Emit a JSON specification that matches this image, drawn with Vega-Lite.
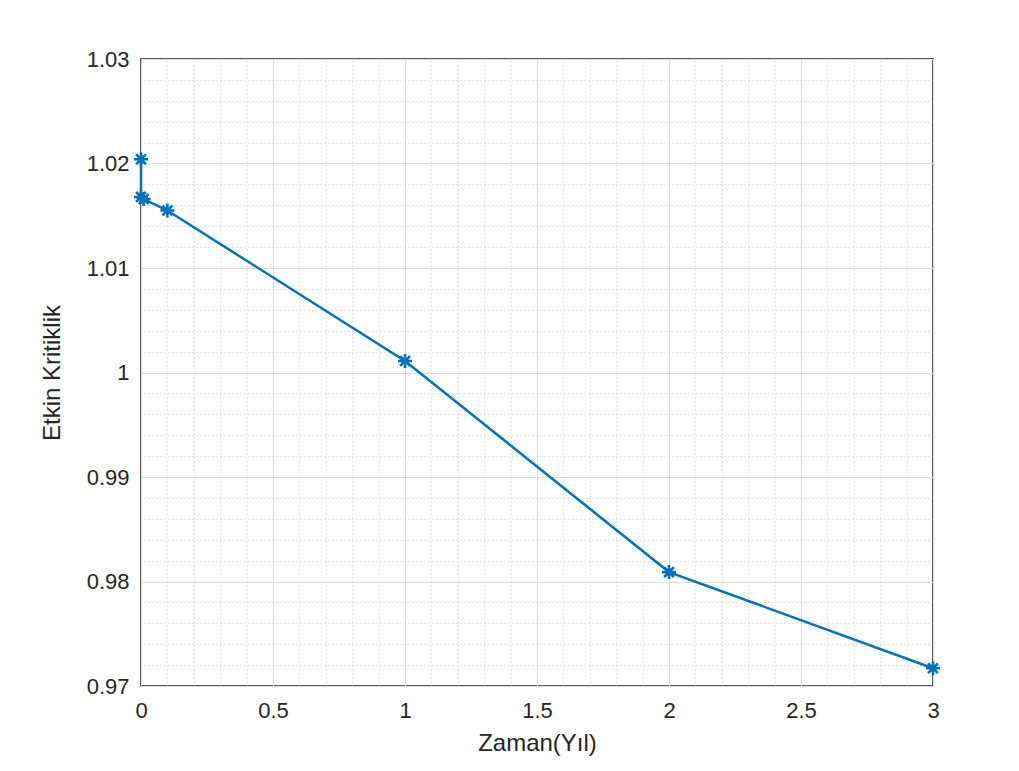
{
  "$schema": "https://vega.github.io/schema/vega-lite/v6.json",
  "width": 792,
  "height": 627,
  "autosize": {"type": "none"},
  "padding": {"left": 141, "top": 59, "right": 86, "bottom": 85},
  "background": "white",
  "config": {
    "view": {"stroke": "#262626", "strokeWidth": 1.5, "fill": "white"},
    "axis": {
      "labelFont": "Liberation Sans",
      "titleFont": "Liberation Sans",
      "labelFontSize": 22,
      "titleFontSize": 24,
      "labelColor": "#262626",
      "titleColor": "#262626",
      "titleFontWeight": "normal",
      "domain": false
    }
  },
  "data": {
    "values": [
      {"i": 0, "t": 0, "k": 1.0204},
      {"i": 1, "t": 0, "k": 1.0168},
      {"i": 2, "t": 0.01, "k": 1.0166},
      {"i": 3, "t": 0.1, "k": 1.0155},
      {"i": 4, "t": 1, "k": 1.0011},
      {"i": 5, "t": 2, "k": 0.9809},
      {"i": 6, "t": 3, "k": 0.9717}
    ]
  },
  "layer": [
    {
      "mark": {"type": "line", "opacity": 0},
      "encoding": {
        "x": {
          "field": "t", "type": "quantitative",
          "scale": {"domain": [0, 3], "nice": false, "zero": false},
          "axis": {
            "orient": "top", "title": null, "labels": false, "ticks": false,
            "grid": true, "gridDash": [1, 3], "gridColor": "#c8c8c8", "gridWidth": 1,
            "values": [0.1,0.2,0.3,0.4,0.6,0.7,0.8,0.9,1.1,1.2,1.3,1.4,1.6,1.7,1.8,1.9,2.1,2.2,2.3,2.4,2.6,2.7,2.8,2.9]
          }
        },
        "y": {
          "field": "k", "type": "quantitative",
          "scale": {"domain": [0.97, 1.03], "nice": false, "zero": false},
          "axis": {
            "orient": "right", "title": null, "labels": false, "ticks": false,
            "grid": true, "gridDash": [1, 3], "gridColor": "#c8c8c8", "gridWidth": 1,
            "values": [0.972,0.974,0.976,0.978,0.982,0.984,0.986,0.988,0.992,0.994,0.996,0.998,1.002,1.004,1.006,1.008,1.012,1.014,1.016,1.018,1.022,1.024,1.026,1.028]
          }
        },
        "order": {"field": "i", "type": "quantitative"}
      }
    },
    {
      "mark": {"type": "line", "color": "#0072BD", "strokeWidth": 2.5},
      "encoding": {
        "x": {
          "field": "t", "type": "quantitative",
          "scale": {"domain": [0, 3], "nice": false, "zero": false},
          "axis": {
            "orient": "bottom", "title": "Zaman(Yıl)", "ticks": false,
            "grid": true, "gridColor": "#dcdcdc", "gridWidth": 1,
            "values": [0, 0.5, 1, 1.5, 2, 2.5, 3], "format": "~g",
            "labelPadding": 14, "titlePadding": 10, "labelFlush": false
          }
        },
        "y": {
          "field": "k", "type": "quantitative",
          "scale": {"domain": [0.97, 1.03], "nice": false, "zero": false},
          "axis": {
            "orient": "left", "title": "Etkin Kritiklik", "ticks": false,
            "grid": true, "gridColor": "#dcdcdc", "gridWidth": 1,
            "values": [0.97, 0.98, 0.99, 1, 1.01, 1.02, 1.03], "format": "~g",
            "labelPadding": 12, "titlePadding": 22, "labelFlush": false
          }
        },
        "order": {"field": "i", "type": "quantitative"}
      }
    },
    {
      "mark": {
        "type": "point",
        "shape": "M0,-1L0,1M-1,0L1,0M-0.7,-0.7L0.7,0.7M-0.7,0.7L0.7,-0.7",
        "filled": false, "color": "#0072BD", "strokeWidth": 2.6, "size": 196, "opacity": 1
      },
      "encoding": {
        "x": {"field": "t", "type": "quantitative", "axis": null},
        "y": {"field": "k", "type": "quantitative", "axis": null}
      }
    }
  ],
  "resolve": {"axis": {"x": "independent", "y": "independent"}}
}
